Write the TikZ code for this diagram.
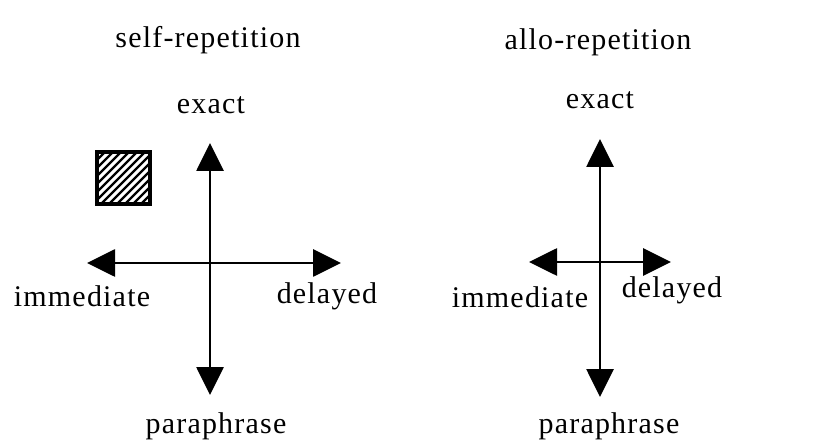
\documentclass[tikz,border=0pt]{standalone}
\usepackage{fontspec}
\setmainfont{Liberation Serif}[LetterSpace=4]
\usetikzlibrary{arrows.meta}
\begin{document}
\begin{tikzpicture}[x=1pt,y=-1pt,
  lbl/.style={font=\fontsize{30}{32}\selectfont, inner sep=0pt},
  axis/.style={line width=2.8pt, {Triangle[length=28pt,width=27pt]}-{Triangle[length=28pt,width=27pt]}}]
\useasboundingbox (0,0) rectangle (824,443);
% left diagram
\node[lbl] (t1) at (208,40) {self-repetition};
\node[lbl] (ex1) at (211,105) {exact};
\node[lbl] (im1) at (82,296) {immediate};
\node[lbl] (de1) at (327,296) {delayed};
\node[lbl] (pa1) at (216,426) {paraphrase};
\coordinate (u1) at (210,143);
\coordinate (d1) at (210,395);
\coordinate (l1) at (87,263);
\coordinate (r1) at (341,263);
\draw[axis] (u1) -- (d1);
\draw[axis] (l1) -- (r1);
% hatched square
\begin{scope}
\clip (97,152) rectangle (150,204);
\foreach \k in {-60,-52,...,60} {
  \draw[line width=2.4pt] (97+\k,204) -- (150+\k,151);
}
\end{scope}
\draw[line width=3.4pt] (97,152) rectangle (150,204);
% right diagram
\node[lbl] (t2) at (598,42) {allo-repetition};
\node[lbl] (ex2) at (600,100) {exact};
\node[lbl] (im2) at (520,297) {immediate};
\node[lbl] (de2) at (672,290) {delayed};
\node[lbl] (pa2) at (609,426) {paraphrase};
\coordinate (u2) at (600,139);
\coordinate (d2) at (600,397);
\coordinate (l2) at (529,262);
\coordinate (r2) at (671,262);
\draw[axis] (u2) -- (d2);
\draw[axis] (l2) -- (r2);
\end{tikzpicture}
\end{document}
